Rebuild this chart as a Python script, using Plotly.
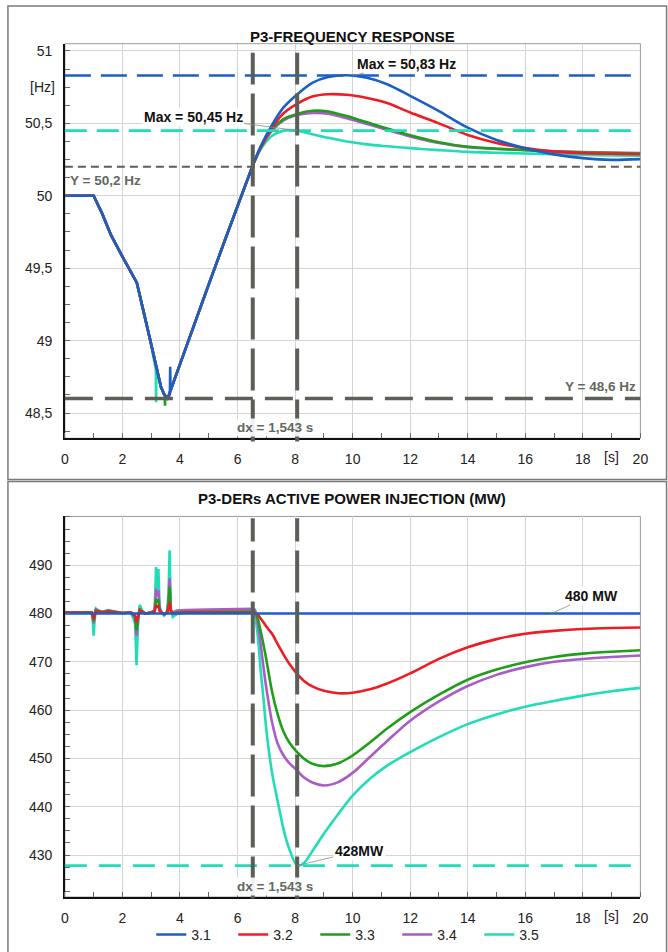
import plotly.graph_objects as go

# ---------------- data ----------------
SERIES = ["3.1", "3.2", "3.3", "3.4", "3.5"]
COLORS = {"3.1": "#1a5fc4", "3.2": "#ee1c25", "3.3": "#1f9e1a", "3.4": "#a95cc7", "3.5": "#21dcb6"}
GRAY = "#5c5f57"

X_TICKS = [0, 2, 4, 6, 8, 10, 12, 14, 16, 18, 20]
X_TICK_TEXT = ["0", "2", "4", "6", "8", "10", "12", "14", "16", "18", "20"]
F_TICKS = [48.5, 49, 49.5, 50, 50.5, 51]
F_TICK_TEXT = ["48,5", "49", "49,5", "50", "50,5", "51"]
P_TICKS = [430, 440, 450, 460, 470, 480, 490]
P_TICK_TEXT = ["430", "440", "450", "460", "470", "480", "490"]

# frequency: common part before divergence
F_T_PRE = [0, 1.0, 1.3, 1.6, 2.0, 2.5, 2.97, 3.34, 3.45, 3.57, 3.75, 4.0, 4.5, 5.0, 5.5, 6.0, 6.53]
F_PRE = [50, 50, 49.875, 49.73, 49.58, 49.40, 49.0, 48.68, 48.63, 48.60, 48.70, 48.84, 49.11, 49.39, 49.66, 49.93, 50.21]
# short spikes during the dip (t, Hz)
F_SPIKE_T = {"3.1": [3.65, 3.66, 3.67], "3.3": [3.47, 3.48, 3.49], "3.5": [3.16, 3.17, 3.18]}
F_SPIKE_V = {"3.1": [48.63, 48.82, 48.65], "3.3": [48.62, 48.55, 48.62], "3.5": [48.80, 48.575, 48.82]}

F_T_POST = [6.53, 6.8, 7.2, 7.6, 8.07, 8.6, 9.15, 9.8, 10.5, 11.2, 12, 13, 14, 15, 16, 17, 18, 19, 20]
F_POST = {
    "3.1": [50.21, 50.34, 50.49, 50.61, 50.70, 50.78, 50.82, 50.832, 50.815, 50.77, 50.69, 50.585, 50.47, 50.385, 50.329, 50.286, 50.26, 50.248, 50.253],
    "3.2": [50.21, 50.33, 50.47, 50.57, 50.635, 50.685, 50.701, 50.697, 50.675, 50.64, 50.575, 50.50, 50.42, 50.365, 50.329, 50.305, 50.294, 50.29, 50.287],
    "3.3": [50.21, 50.33, 50.46, 50.53, 50.565, 50.587, 50.582, 50.55, 50.507, 50.465, 50.418, 50.37, 50.338, 50.325, 50.315, 50.306, 50.299, 50.295, 50.292],
    "3.4": [50.21, 50.33, 50.45, 50.52, 50.557, 50.572, 50.567, 50.535, 50.495, 50.455, 50.41, 50.364, 50.336, 50.324, 50.316, 50.308, 50.302, 50.298, 50.295],
    "3.5": [50.21, 50.32, 50.415, 50.45, 50.45, 50.425, 50.40, 50.375, 50.355, 50.342, 50.329, 50.315, 50.303, 50.297, 50.292, 50.287, 50.283, 50.279, 50.276],
}

# active power: before event (with spikes)
P_T_PRE = [0, 0.93, 0.97, 1.0, 1.03, 1.08, 1.15, 1.3, 1.5, 1.7, 2.0, 2.3, 2.44, 2.49, 2.54, 2.6, 2.68, 2.8,
           3.0, 3.12, 3.17, 3.21, 3.25, 3.29, 3.35, 3.45, 3.55, 3.6, 3.64, 3.68, 3.75, 3.9, 4.2, 5.0, 6.0, 6.55]
P_PRE = {
    "3.1": [480.0] * 36,
    "3.2": [480.2, 480.2, 479.6, 478.9, 479.6, 480.5, 480.4, 480.2, 480.4, 480.3, 480.1, 480.2, 479.6, 478.2, 479.6, 480.6, 480.3, 480.0,
            480.2, 480.4, 481.8, 481.2, 481.7, 480.5, 480.2, 479.9, 480.1, 481.0, 482.4, 480.4, 480.0, 480.1, 480.2, 480.2, 480.2, 480.2],
    "3.3": [480.2, 480.2, 479.4, 478.4, 479.5, 480.7, 480.5, 480.3, 480.5, 480.3, 480.1, 480.2, 479.3, 476.5, 479.2, 480.8, 480.4, 480.0,
            480.2, 480.5, 483.1, 482.3, 482.9, 480.8, 480.2, 479.8, 480.2, 481.8, 485.6, 480.6, 480.0, 480.2, 480.3, 480.3, 480.3, 480.4],
    "3.4": [480.2, 480.2, 479.2, 477.9, 479.3, 480.8, 480.6, 480.3, 480.6, 480.4, 480.1, 480.2, 479.0, 475.4, 478.8, 481.0, 480.5, 480.0,
            480.2, 480.6, 485.1, 483.5, 484.8, 481.0, 480.3, 479.8, 480.3, 482.5, 487.3, 480.8, 480.2, 480.6, 480.7, 480.8, 480.9, 481.0],
    "3.5": [480.2, 480.2, 478.5, 475.4, 478.5, 481.0, 480.7, 480.3, 480.7, 480.4, 480.1, 480.2, 478.0, 469.3, 477.5, 481.8, 480.6, 480.0,
            480.2, 480.8, 489.6, 485.0, 489.2, 481.5, 480.4, 479.6, 480.4, 484.0, 493.1, 481.0, 479.3, 479.9, 480.2, 480.4, 480.4, 480.5],
}
P_T_POST = [6.55, 6.6, 6.7, 6.8, 6.9, 7.0, 7.2, 7.4, 7.6, 7.8, 8.07, 8.3, 8.6, 9.0, 9.5, 10.0, 10.6, 11.2, 12.0,
            13.0, 14.0, 15.0, 16.0, 17.0, 18.0, 19.0, 20.0]
P_POST = {
    "3.1": [480.0] * 27,
    "3.2": [480.2, 480.1, 479.8, 479.0, 478.2, 477.3, 475.8, 473.6, 471.5, 469.6, 467.5, 466.1, 464.9, 464.0, 463.5, 463.6, 464.3, 465.5, 467.6,
            470.6, 473.0, 474.7, 475.8, 476.4, 476.8, 477.0, 477.1],
    "3.3": [480.4, 480.3, 479.0, 476.5, 473.6, 470.5, 463.8, 459.0, 455.5, 453.3, 451.3, 450.0, 448.9, 448.4, 449.0, 450.6, 453.3, 456.2, 459.6,
            463.2, 466.3, 468.4, 469.9, 471.0, 471.7, 472.1, 472.4],
    "3.4": [481.0, 480.8, 478.2, 473.8, 469.0, 464.6, 457.5, 453.0, 450.6, 449.0, 447.5, 446.1, 445.0, 444.4, 445.1, 447.0, 450.3, 453.6, 457.8,
            461.8, 465.0, 467.3, 468.9, 470.0, 470.6, 471.0, 471.3],
    "3.5": [480.5, 479.8, 475.5, 468.5, 462.5, 456.0, 447.0, 441.0, 435.3, 431.2, 427.8, 428.3, 430.8, 434.4, 438.5, 442.3, 445.8, 448.5, 451.3,
            454.4, 457.1, 459.1, 460.7, 461.9, 463.0, 463.9, 464.6],
}

# reference markers
F_MAX_31 = 50.83
F_MAX_35 = 50.45
F_LEVEL_HI = 50.2
F_LEVEL_LO = 48.6
P_LEVEL_31 = 480.0
P_MIN_35 = 427.8
CURSOR_X = [6.53, 8.073]
MAX31_T = 10.0
LABEL480_T = 16.9

FONT = "Liberation Sans, Arial, sans-serif"

# ---------------- figure ----------------
fig = go.Figure()
draw_order = ["3.5", "3.4", "3.3", "3.2", "3.1"]
for s in draw_order:
    c = COLORS[s]
    rank = SERIES.index(s) + 1
    # frequency pre-event (with spikes)
    pts = list(zip(F_T_PRE, F_PRE)) + list(zip(F_SPIKE_T.get(s, []), F_SPIKE_V.get(s, [])))
    pts.sort(key=lambda p: p[0])
    fig.add_trace(go.Scatter(x=[p[0] for p in pts], y=[p[1] for p in pts], mode="lines",
                             line=dict(color=c, width=2.6), legendgroup=s, showlegend=False,
                             xaxis="x", yaxis="y", hoverinfo="skip"))
    fig.add_trace(go.Scatter(x=F_T_POST, y=F_POST[s], mode="lines",
                             line=dict(color=c, width=2.6, shape="spline", smoothing=0.8),
                             legendgroup=s, showlegend=False, xaxis="x", yaxis="y"))
    # power
    fig.add_trace(go.Scatter(x=P_T_PRE, y=P_PRE[s], mode="lines",
                             line=dict(color=c, width=2.6), legendgroup=s, showlegend=False,
                             xaxis="x2", yaxis="y2", hoverinfo="skip"))
    fig.add_trace(go.Scatter(x=P_T_POST, y=P_POST[s], mode="lines", name=s,
                             line=dict(color=c, width=2.6, shape="spline", smoothing=0.8),
                             legendgroup=s, showlegend=True, legendrank=rank,
                             xaxis="x2", yaxis="y2"))

shapes = []
# panel frames
shapes.append(dict(type="rect", xref="paper", yref="paper", x0=0.006, x1=1.01, y0=0.4968, y1=0.9947,
                   line=dict(color="#7a7a7a", width=1.5), layer="below"))
shapes.append(dict(type="rect", xref="paper", yref="paper", x0=0.006, x1=1.01, y0=-0.01, y1=0.4948,
                   line=dict(color="#7a7a7a", width=1.5), layer="below"))
# plot area frames (gray top/right)
for xr, yr in (("x domain", "y domain"), ("x2 domain", "y2 domain")):
    shapes.append(dict(type="rect", xref=xr, yref=yr, x0=0, x1=1, y0=0, y1=1,
                       line=dict(color="#9a9a9a", width=1), layer="below"))


def hline(xr, yr, yv, color, width, dash):
    return dict(type="line", xref=xr + " domain", yref=yr, x0=0, x1=1, y0=yv, y1=yv,
                line=dict(color=color, width=width, dash=dash), layer="above")


shapes.append(hline("x", "y", F_MAX_31, COLORS["3.1"], 2.6, "26px,10px"))
shapes.append(hline("x", "y", F_MAX_35, COLORS["3.5"], 2.6, "22px,10px"))
shapes.append(hline("x", "y", F_LEVEL_HI, GRAY, 2, "8px,5px"))
shapes.append(hline("x", "y", F_LEVEL_LO, GRAY, 3.5, "28px,12px"))
shapes.append(hline("x2", "y2", P_MIN_35, COLORS["3.5"], 2.6, "22px,12px"))
for cx in CURSOR_X:
    shapes.append(dict(type="line", xref="x", yref="y domain", x0=cx, x1=cx, y0=-0.008, y1=0.977,
                       line=dict(color=GRAY, width=4, dash="42px,9px"), layer="above"))
    shapes.append(dict(type="line", xref="x2", yref="y2 domain", x0=cx, x1=cx, y0=-0.004, y1=0.995,
                       line=dict(color=GRAY, width=4, dash="42px,9px"), layer="above"))

annotations = []
annotations.append(dict(text="<b>P3-FREQUENCY RESPONSE</b>", xref="paper", yref="paper", x=0.531, y=0.9737,
                        showarrow=False, font=dict(size=15, color="#111", family=FONT)))
annotations.append(dict(text="<b>P3-DERs ACTIVE POWER INJECTION (MW)</b>", xref="paper", yref="paper", x=0.531,
                        y=0.4769, showarrow=False, font=dict(size=15, color="#111", family=FONT)))
for xr, yr in (("x", "y"), ("x2", "y2")):
    annotations.append(dict(text="[s]", xref=xr, yref=yr + " domain", x=19, y=0, yanchor="top", yshift=-9,
                            showarrow=False, font=dict(size=14, color="#222", family=FONT)))
annotations.append(dict(text="[Hz]", xref="x domain", yref="y", x=0, y=50.75, xanchor="right", xshift=-8,
                        showarrow=False, font=dict(size=14, color="#222", family=FONT)))


def callout(text, xr, yr, x, y, ax, ay):
    return dict(text="<b>%s</b>" % text, xref=xr, yref=yr, x=x, y=y, ax=ax, ay=ay, showarrow=True,
                arrowhead=0, arrowwidth=0.8, arrowcolor="#8a8a8a", bgcolor="white",
                font=dict(size=14, color="#111", family=FONT))


annotations.append(callout("Max = 50,83 Hz", "x", "y", MAX31_T, F_MAX_31, 54, -12))
annotations.append(callout("Max = 50,45 Hz", "x", "y", CURSOR_X[1], F_MAX_35, -104, -14))
annotations.append(callout("480 MW", "x2", "y2", LABEL480_T, P_LEVEL_31, 40, -18))
annotations.append(callout("428MW", "x2", "y2", CURSOR_X[1], P_MIN_35, 62, -15))

gfont = dict(size=13.5, color="#64675f", family=FONT)
annotations.append(dict(text="<b>Y = 50,2 Hz</b>", xref="x domain", yref="y", x=0, y=F_LEVEL_HI, xanchor="left",
                        yanchor="top", xshift=3, yshift=-4, showarrow=False, font=gfont))
annotations.append(dict(text="<b>Y = 48,6 Hz</b>", xref="x domain", yref="y", x=1, y=F_LEVEL_LO, xanchor="right",
                        yanchor="bottom", xshift=-2, yshift=3, showarrow=False, font=gfont))
dx = CURSOR_X[1] - CURSOR_X[0]
for xr, yr in (("x", "y"), ("x2", "y2")):
    annotations.append(dict(text="<b>dx = %s s</b>" % ("%.3f" % dx).replace(".", ","), xref=xr, yref=yr + " domain",
                            x=(CURSOR_X[0] + CURSOR_X[1]) / 2, y=0, yanchor="bottom", yshift=1, showarrow=False,
                            bgcolor="rgba(255,255,255,0.9)", font=gfont))


def xaxis(domain_anchor):
    return dict(domain=[0.0928, 0.9701], range=[0, 20], anchor=domain_anchor, tickvals=X_TICKS,
                ticktext=X_TICK_TEXT, showgrid=True, gridcolor="#d4d4d4", gridwidth=1, zeroline=False,
                showline=True, linecolor="#111", linewidth=1.6, ticks="", ticklabelstandoff=7,
                minor=dict(dtick=1, tick0=0, ticks="inside", ticklen=5, tickcolor="#666", showgrid=False),
                tickfont=dict(size=14, color="#222", family=FONT))


def yaxis(domain, rng, tv, tt, minor_dt, anchor):
    return dict(domain=domain, range=rng, anchor=anchor, tickvals=tv, ticktext=tt, showgrid=True,
                gridcolor="#d4d4d4", gridwidth=1, zeroline=False, showline=True, linecolor="#111", linewidth=1.6,
                ticks="", ticklabelstandoff=8,
                minor=dict(dtick=minor_dt, tick0=tv[0], ticks="inside", ticklen=5, tickcolor="#666", showgrid=False),
                tickfont=dict(size=14, color="#222", family=FONT))


fig.update_layout(
    width=668, height=952, margin=dict(l=0, r=0, t=0, b=0),
    paper_bgcolor="white", plot_bgcolor="white",
    xaxis=xaxis("y"), xaxis2=xaxis("y2"),
    yaxis=yaxis([0.5402, 0.9551], [48.326, 51.05], F_TICKS, F_TICK_TEXT, 0.125, "x"),
    yaxis2=yaxis([0.0578, 0.458], [421.3, 500.1], P_TICKS, P_TICK_TEXT, 2.5, "x2"),
    shapes=shapes, annotations=annotations,
    showlegend=True,
    legend=dict(orientation="h", x=0.537, xanchor="center", y=0.018, yanchor="middle",
                font=dict(size=14, color="#222", family=FONT), itemwidth=30, entrywidth=37,
                bgcolor="rgba(0,0,0,0)"),
    font=dict(family=FONT),
)

fig.write_html("out.html")
